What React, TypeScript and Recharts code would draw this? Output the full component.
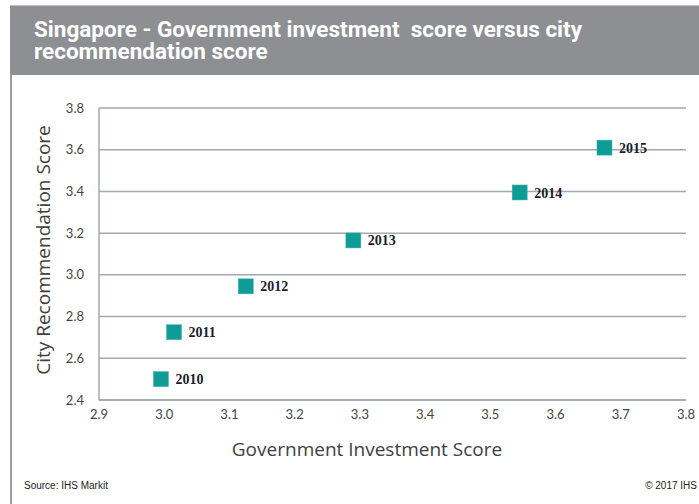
import { CartesianGrid, Scatter, ScatterChart, XAxis, YAxis } from 'recharts'

const years = ['2010', '2011', '2012', '2013', '2014', '2015']
const investmentScores = [2.995, 3.015, 3.125, 3.29, 3.545, 3.675]
const recommendationScores = [2.5, 2.725, 2.945, 3.165, 3.395, 3.61]

const xTicks = [2.9, 3.0, 3.1, 3.2, 3.3, 3.4, 3.5, 3.6, 3.7, 3.8]
const yTicks = [2.4, 2.6, 2.8, 3.0, 3.2, 3.4, 3.6, 3.8]

const TEAL = '#0f9c96'
const GRID = '#a2a7b0'
const AXIS_TEXT = '#454545'

const points = years.map((year, i) => ({
  year,
  x: investmentScores[i],
  y: recommendationScores[i],
}))

// square marker with the year written to its right
function YearSquare(props: any) {
  const { cx, cy, payload } = props
  if (cx == null || cy == null) return null
  const size = 15
  return (
    <g>
      <rect x={cx - size / 2} y={cy - size / 2} width={size} height={size} fill={TEAL} stroke="#3fb3ad" strokeWidth={0.5} />
      <text
        x={cx + size / 2 + 7}
        y={cy}
        dy="0.36em"
        fontFamily="'Liberation Serif', 'DejaVu Serif', serif"
        fontWeight={700}
        fontSize={14}
        fill="#1c1c2a"
      >
        {payload.year}
      </text>
    </g>
  )
}

export default function App() {
  return (
    <div
      style={{
        position: 'absolute',
        left: 0,
        top: 0,
        width: 699,
        height: 504,
        overflow: 'hidden',
        background: '#fff',
      }}
    >
      <div
        style={{
          position: 'absolute',
          left: 10,
          top: 5,
          width: 689,
          height: 69,
          background: '#8e8f92',
          borderTop: '1px solid #c4c4c6',
        }}
      />
      <div
        style={{
          position: 'absolute',
          left: 34,
          top: 18,
          color: '#fff',
          fontFamily: 'Roboto, sans-serif',
          fontWeight: 700,
          fontSize: 22.5,
          lineHeight: '22px',
          whiteSpace: 'pre',
        }}
      >
        {'Singapore - Government investment  score versus city\nrecommendation score'}
      </div>
      <div style={{ position: 'absolute', left: 10, top: 74, width: 1.5, height: 430, background: '#9c9c9c' }} />

      <div style={{ position: 'absolute', left: 0, top: 0 }}>
        <ScatterChart width={699} height={504} margin={{ top: 108, right: 13, bottom: 74, left: 0 }}>
          <CartesianGrid horizontal vertical={false} stroke={GRID} strokeWidth={1.5} />
          <XAxis
            type="number"
            dataKey="x"
            domain={[2.9, 3.8]}
            ticks={xTicks}
            tickFormatter={(v: number) => v.toFixed(1)}
            height={30}
            tickLine={false}
            tickSize={0}
            tickMargin={10}
            axisLine={{ stroke: GRID, strokeWidth: 1.5 }}
            tick={{ fontFamily: 'Lato, sans-serif', fontSize: 13, fill: AXIS_TEXT }}
            interval={0}
          />
          <YAxis
            type="number"
            dataKey="y"
            domain={[2.4, 3.8]}
            ticks={yTicks}
            tickFormatter={(v: number) => v.toFixed(1)}
            width={99}
            tickLine={false}
            tickSize={0}
            tickMargin={15}
            axisLine={{ stroke: GRID, strokeWidth: 1.5 }}
            tick={{ fontFamily: 'Lato, sans-serif', fontSize: 13, fill: AXIS_TEXT }}
            interval={0}
          />
          <Scatter data={points} shape={YearSquare} isAnimationActive={false} />
        </ScatterChart>
      </div>

      <div
        style={{
          position: 'absolute',
          left: 43,
          top: 250,
          transform: 'translate(-50%, -50%) rotate(-90deg)',
          whiteSpace: 'nowrap',
          fontFamily: "'Open Sans', sans-serif",
          fontSize: 19,
          color: '#404040',
        }}
      >
        City Recommendation Score
      </div>
      <div
        style={{
          position: 'absolute',
          left: 367,
          top: 449,
          transform: 'translate(-50%, -50%)',
          whiteSpace: 'nowrap',
          fontFamily: "'Open Sans', sans-serif",
          fontSize: 19,
          color: '#404040',
        }}
      >
        Government Investment Score
      </div>

      <div
        style={{
          position: 'absolute',
          left: 24,
          top: 480,
          fontFamily: "'Liberation Sans', Arial, sans-serif",
          fontSize: 10,
          color: '#222',
          whiteSpace: 'nowrap',
        }}
      >
        Source: IHS Markit
      </div>
      <div
        style={{
          position: 'absolute',
          right: 2,
          top: 480,
          fontFamily: "'Liberation Sans', Arial, sans-serif",
          fontSize: 10,
          color: '#222',
          whiteSpace: 'nowrap',
        }}
      >
        © 2017 IHS
      </div>
    </div>
  )
}
